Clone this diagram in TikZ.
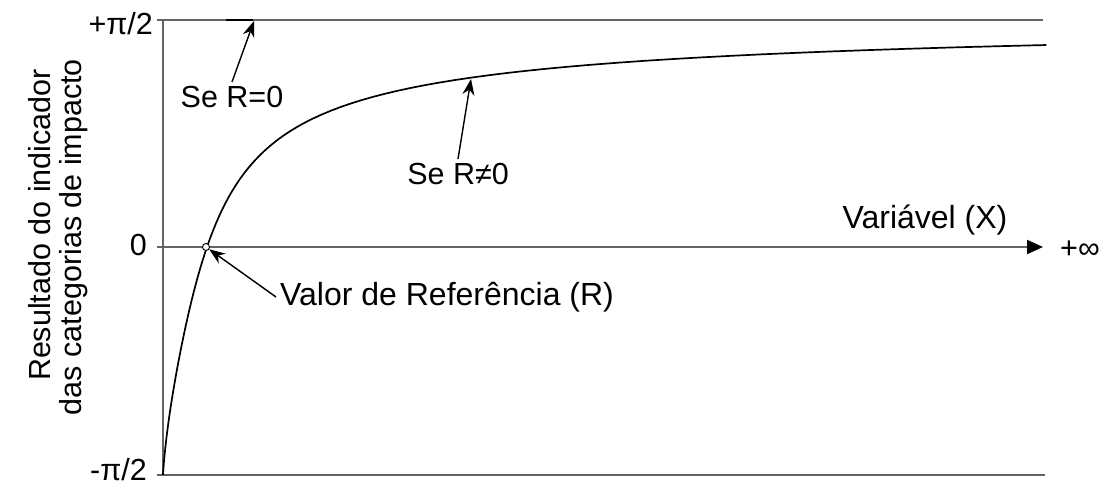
\documentclass[tikz,border=0pt]{standalone}
\usepackage{fontspec}
\setmainfont{Liberation Sans}
\usetikzlibrary{arrows.meta}
\begin{document}
\begin{tikzpicture}[x=1pt, y=-1pt, font=\fontsize{30.5}{36}\selectfont,
	axis/.style={draw={rgb,255:red,100;green,100;blue,100}, line width=2pt},
	curve/.style={draw=black, line width=1.7pt, line join=round},
	lbl/.style={text=black, inner sep=4pt},
	wide/.style={font=\fontsize{32}{38}\selectfont},
	ptr/.style={draw=black, line width=1.4pt, -{Stealth[length=16pt, width=12pt]}}]
	\useasboundingbox (0,0) rectangle (1106,486);

	\draw[axis] (157,20) -- (1043,20);
	\draw[axis] (157,475) -- (1045,475);
	\draw[axis] (163,20) -- (163,475);
	\draw[axis, -{Triangle[length=16pt, width=14pt, color=black]}] (157,247) -- (1043,247);
	\draw[draw=black, line width=2pt] (226,20) -- (253,20);

	\draw[curve] (163,475) -- plot[variable=\u, domain=-5.8:3.0, samples=160] ({163+44*exp(\u)}, {247-2.5222*atan(0.218*(exp(\u)-1/exp(\u))+0.451*\u)});

	\node[draw=black, fill=white, shape=circle, inner sep=0pt, minimum size=7pt, line width=0.9pt] (r_pt) at (206,247) {};
	\coordinate (c_r0) at (254,21);
	\coordinate (c_rn) at (471,79);

	\node[lbl, anchor=east] (y_top) at (157,24) {+π/2};
	\node[lbl, anchor=east] (y_mid) at (151,245) {0};
	\node[lbl, anchor=east, inner sep=1pt] (y_bot) at (148,470) {-π/2};
	\node[lbl, anchor=base, rotate=90] (y_lab_a) at (50,225) {Resultado do indicador};
	\node[lbl, anchor=base, rotate=90] (y_lab_b) at (81,237) {das categorias de impacto};
	\node[lbl, wide] (x_lab) at (925,220) {Variável (X)};
	\node[lbl, anchor=west] (x_inf) at (1056,250) {+∞};

	\node[lbl] (lbl_r0) at (232,97) {Se R=0};
	\node[lbl] (lbl_rn) at (458,174) {Se R≠0};
	\node[lbl, wide, anchor=west] (lbl_ref) at (276,297) {Valor de Referência (R)};

	\draw[ptr] (lbl_r0.north) -- (c_r0);
	\draw[ptr] (lbl_rn.north) -- (c_rn);
	\draw[ptr] (lbl_ref.west) -- (r_pt);
\end{tikzpicture}
\end{document}
